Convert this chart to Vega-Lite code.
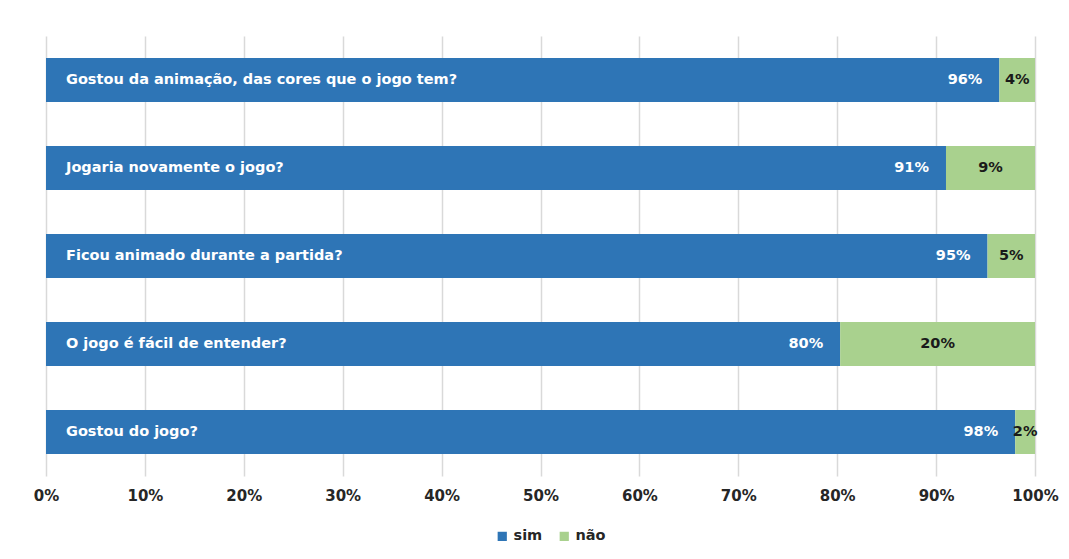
{
  "$schema": "https://vega.github.io/schema/vega-lite/v6.json",
  "width": 989,
  "height": 440,
  "autosize": "none",
  "padding": {"left": 46, "top": 36, "right": 34, "bottom": 83},
  "background": "white",
  "data": {
    "values": [
      {"question": "Gostou da animação, das cores que o jogo tem?", "resp": "sim", "value": 0.964},
      {"question": "Gostou da animação, das cores que o jogo tem?", "resp": "não", "value": 0.036},
      {"question": "Jogaria novamente o jogo?", "resp": "sim", "value": 0.91},
      {"question": "Jogaria novamente o jogo?", "resp": "não", "value": 0.09},
      {"question": "Ficou animado durante a partida?", "resp": "sim", "value": 0.952},
      {"question": "Ficou animado durante a partida?", "resp": "não", "value": 0.048},
      {"question": "O jogo é fácil de entender?", "resp": "sim", "value": 0.803},
      {"question": "O jogo é fácil de entender?", "resp": "não", "value": 0.197},
      {"question": "Gostou do jogo?", "resp": "sim", "value": 0.98},
      {"question": "Gostou do jogo?", "resp": "não", "value": 0.02}
    ]
  },
  "transform": [
    {"stack": "value", "groupby": ["question"], "sort": [{"field": "resp", "order": "descending"}], "as": ["v0", "v1"]},
    {"calculate": "(datum.v0 + datum.v1) / 2", "as": "mid"}
  ],
  "encoding": {
    "y": {
      "field": "question", "type": "nominal", "sort": null, "axis": null,
      "scale": {"paddingInner": 0.5, "paddingOuter": 0.25}
    }
  },
  "layer": [
    {
      "mark": {"type": "bar"},
      "encoding": {
        "x": {
          "field": "v0", "type": "quantitative",
          "scale": {"domain": [0, 1], "nice": false},
          "axis": {
            "format": ".0%", "values": [0, 0.1, 0.2, 0.3, 0.4, 0.5, 0.6, 0.7, 0.8, 0.9, 1],
            "grid": true, "gridColor": "#d9d9d9", "gridWidth": 1.5,
            "domain": false, "ticks": false, "labelPadding": 12,
            "labelFont": "DejaVu Sans", "labelFontWeight": "bold", "labelFontSize": 15,
            "labelColor": "#262626", "labelFlush": false, "title": null
          }
        },
        "x2": {"field": "v1"},
        "color": {
          "field": "resp", "type": "nominal",
          "scale": {"domain": ["sim", "não"], "range": ["#2E75B6", "#A9D18E"]},
          "legend": {
            "title": null, "orient": "none", "legendX": 449, "legendY": 493, "direction": "horizontal",
            "symbolType": "square", "symbolSize": 85, "symbolStrokeWidth": 0,
            "labelFont": "DejaVu Sans", "labelFontWeight": "bold", "labelFontSize": 14.5,
            "labelColor": "#262626", "columnPadding": 14
          }
        }
      }
    },
    {
      "transform": [{"filter": "datum.resp === 'sim'"}],
      "mark": {"type": "text", "align": "left", "dx": 20, "font": "DejaVu Sans", "fontWeight": "bold", "fontSize": 14.5, "color": "white"},
      "encoding": {
        "x": {"datum": 0, "type": "quantitative"},
        "text": {"field": "question"}
      }
    },
    {
      "transform": [{"filter": "datum.resp === 'sim'"}],
      "mark": {"type": "text", "align": "right", "dx": -17, "font": "DejaVu Sans", "fontWeight": "bold", "fontSize": 14.5, "color": "white"},
      "encoding": {
        "x": {"field": "v1", "type": "quantitative"},
        "text": {"field": "value", "format": ".0%"}
      }
    },
    {
      "transform": [{"filter": "datum.resp === 'não'"}],
      "mark": {"type": "text", "align": "center", "font": "DejaVu Sans", "fontWeight": "bold", "fontSize": 14.5, "color": "#1a1a1a"},
      "encoding": {
        "x": {"field": "mid", "type": "quantitative"},
        "text": {"field": "value", "format": ".0%"}
      }
    }
  ],
  "config": {"view": {"stroke": null}}
}
